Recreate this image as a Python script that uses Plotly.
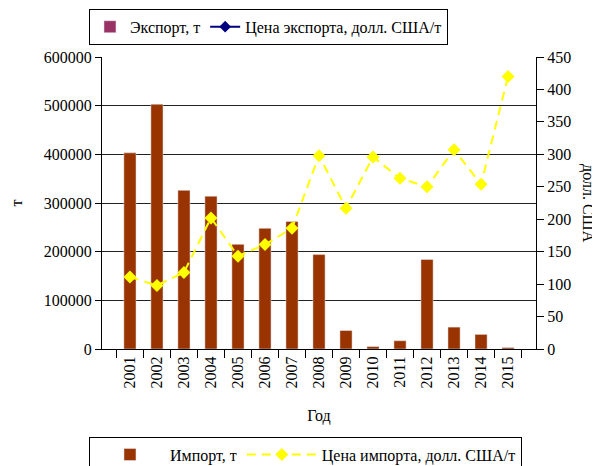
import plotly.graph_objects as go

# data
years = [str(y) for y in range(2001, 2016)]
import_t = [403000, 503000, 326000, 314000, 215000, 248000, 262000, 194000,
            38000, 5000, 17000, 184000, 45000, 30000, 3000]
import_price = [111, 98, 118, 202, 143, 161, 186, 298, 217, 296, 263, 250, 307, 254, 420]
export_t = [None] * len(years)
export_price = [None] * len(years)

serif = "Liberation Serif"
tick_font = dict(family=serif, size=16, color="black")

fig = go.Figure()

# export series (no values, legend only)
fig.add_trace(go.Bar(
    x=years, y=export_t, name="Экспорт, т",
    marker_color="#993366", legend="legend",
))
fig.add_trace(go.Scatter(
    x=years, y=export_price, name="Цена экспорта, долл. США/т",
    mode="lines+markers", yaxis="y2",
    line=dict(color="#000080", width=2),
    marker=dict(symbol="diamond", size=9, color="#000080"),
    legend="legend",
))

# import series
fig.add_trace(go.Bar(
    x=years, y=import_t, name="Импорт, т",
    marker_color="#993300", width=0.45, legend="legend2",
))
fig.add_trace(go.Scatter(
    x=years, y=import_price, name="Цена импорта, долл. США/т",
    mode="lines+markers", yaxis="y2",
    line=dict(color="#FFFF00", width=2, dash="9px,6px"),
    marker=dict(symbol="diamond", size=10, color="#FFFF00"),
    legend="legend2",
))

# the page body has an 8px margin, so margins are shifted to compensate
fig.update_layout(
    width=600, height=466,
    margin=dict(l=94, r=72, t=49, b=125, autoexpand=False),
    paper_bgcolor="white", plot_bgcolor="white",
    font=dict(family=serif, size=16, color="black"),
    barmode="overlay",
    xaxis=dict(
        type="category", tickangle=-90, tickson="boundaries",
        ticks="outside", ticklen=8, tickcolor="black", tickfont=tick_font,
        showline=True, linecolor="black", linewidth=1,
        title=dict(text="Год", standoff=22, font=dict(family=serif, size=16)),
        showgrid=False, automargin=False,
    ),
    yaxis=dict(
        range=[0, 600000], dtick=100000,
        ticks="outside", ticklen=6, tickcolor="black", tickfont=tick_font,
        showline=True, linecolor="black", linewidth=1,
        showgrid=True, gridcolor="#222222", gridwidth=1,
        zeroline=False, automargin=False,
        title=dict(text="т", standoff=40, font=dict(family=serif, size=16)),
        tickformat="d",
    ),
    yaxis2=dict(
        range=[0, 450], dtick=50, overlaying="y", side="right",
        ticks="outside", ticklen=7, tickcolor="black", tickfont=tick_font,
        showline=True, linecolor="black", linewidth=1,
        showgrid=False, zeroline=False, automargin=False,
    ),
    annotations=[dict(
        text="долл. США", textangle=90, showarrow=False,
        xref="paper", yref="paper", x=1, y=0.5, xshift=52,
        xanchor="center", yanchor="middle",
        font=dict(family=serif, size=16),
    )],
    legend=dict(
        orientation="h", x=-0.03, y=1.165, xanchor="left", yanchor="top",
        bordercolor="black", borderwidth=1, bgcolor="white",
        font=dict(family=serif, size=16), traceorder="normal",
    ),
    legend2=dict(
        orientation="h", x=-0.03, y=-0.30, xanchor="left", yanchor="top",
        bordercolor="black", borderwidth=1, bgcolor="white",
        font=dict(family=serif, size=16), traceorder="normal",
        itemwidth=70,
    ),
)

fig.write_html("out.html")
